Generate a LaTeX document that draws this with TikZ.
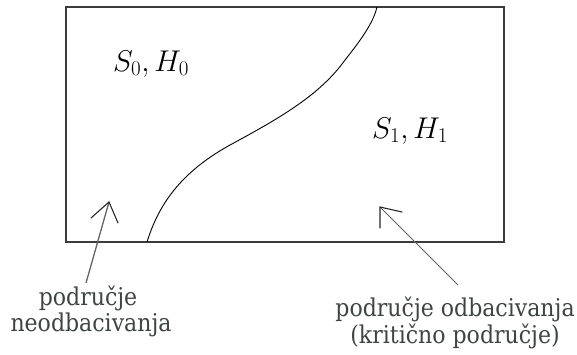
\RequirePackage{fix-cm}
\documentclass[tikz,border=0pt]{standalone}
\usepackage{fontspec}
\newfontfamily\lblfont{DejaVu Serif Condensed}
\definecolor{txtc}{RGB}{62,68,64}
\definecolor{framec}{RGB}{60,60,60}
\definecolor{shaftc}{RGB}{100,100,100}
\begin{document}
\begin{tikzpicture}[x=1pt,y=-1pt,
  lbl/.style={anchor=base,inner sep=0pt,text=txtc,font=\lblfont\fontsize{24.5}{28}\selectfont},
  mth/.style={inner sep=0pt,font=\fontsize{30}{34}\selectfont},
  shaft/.style={draw=shaftc,line width=1.3pt},
  barb/.style={draw=black!85,line width=1.1pt,line cap=round}]
\useasboundingbox (0,0) rectangle (577,355);
% frame
\draw[framec,line width=1.4pt] (66,7) rectangle (504,242);
% separating curve
\coordinate (cb) at (147,242);
\coordinate (ct) at (377,7);
\draw[black,line width=0.9pt] (cb) .. controls (160,200) and (185,170) .. (230,145)
  .. controls (280,118) and (320,95) .. (345,60)
  .. controls (365,35) and (374,20) .. (ct);
% region labels
\node[mth] (s0) at (151,64) {$S_0,H_0$};
\node[mth] (s1) at (410,131) {$S_1,H_1$};
% text labels
\node[lbl] (l1) at (88,305) {područje};
\node[lbl] (l2) at (91,331) {neodbacivanja};
\node[lbl] (r1) at (455,316) {područje odbacivanja};
\node[lbl] (r2) at (455,343) {(kritično područje)};
% left arrow
\coordinate (ta) at (86,283);
\coordinate (ha) at (109,202);
\coordinate (ba1) at (91,218);
\coordinate (ba2) at (118,223);
\draw[shaft] (ta) -- (ha);
\draw[barb] (ba1) -- (ha) -- (ba2);
% right arrow
\coordinate (tb) at (458,285);
\coordinate (hb) at (380,207);
\coordinate (bb1) at (380,228);
\coordinate (bb2) at (402,212);
\draw[shaft,line width=1pt] (tb) -- (hb);
\draw[barb] (bb1) -- (hb) -- (bb2);
\end{tikzpicture}
\end{document}
